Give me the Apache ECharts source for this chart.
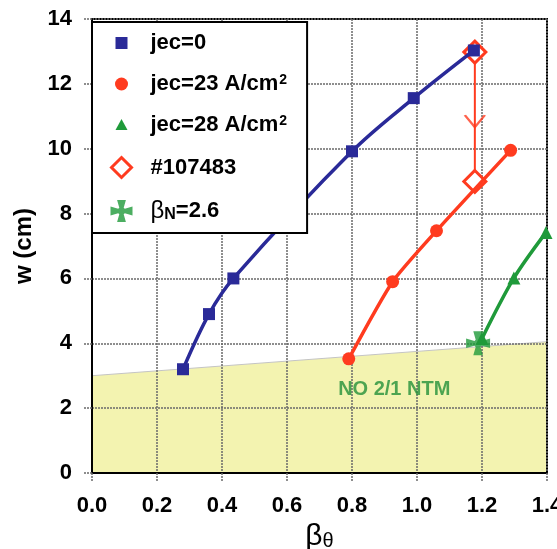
<!DOCTYPE html>
<html><head><meta charset="utf-8">
<script src="https://cdn.jsdelivr.net/npm/echarts@6/dist/echarts.min.js"></script>
<style>html,body{margin:0;padding:0;background:#fff}#c{width:557px;height:549px}</style>
</head><body><div id="c"></div>
<script>
// ---- data ----
const xTicks = [0.0, 0.2, 0.4, 0.6, 0.8, 1.0, 1.2, 1.4];
const yTicks = [0, 2, 4, 6, 8, 10, 12, 14];
const jec0X = [0.28, 0.36, 0.435, 0.80, 0.99, 1.175];
const jec0Y = [3.2, 4.9, 6.0, 9.92, 11.56, 13.03];
const jec23X = [0.79, 0.925, 1.06, 1.288];
const jec23Y = [3.52, 5.9, 7.47, 9.95];
const jec28X = [1.2, 1.298, 1.397];
const jec28Y = [4.15, 6.01, 7.42];
const shotX = [1.178, 1.178];
const shotY = [12.98, 8.99];
const arrowX = [1.178];
const arrowY = [10.85];
const betaNX = [1.188];
const betaNY = [4.0];
const bandX = [0, 1.4];
const bandY = [3.0, 4.05];
const ntmX = [0.93];
const ntmY = [2.56];
const names = ['jec=0', 'jec=23 A/cm2', 'jec=28 A/cm2', '#107483', 'βN=2.6'];

const zip = (a, b) => a.map((v, i) => [v, b[i]]);
const BLUE = '#2a2a98', RED = '#ff3b1f', GREEN = '#1f9a3a';
const gridLine = { color: '#6a6a6a', width: 1.5, type: [2, 1] };
const crossPath = 'path://M6,0L14,0L12,7L13,8L20,6L20,14L13,12L12,13L14,20L6,20L8,13L7,12L0,14L0,6L7,8L8,7Z';

const chart = echarts.init(document.getElementById('c'));
chart.setOption({
  animation: false,
  textStyle: { fontFamily: 'Liberation Sans, Arial, sans-serif' },
  grid: { left: 92, right: 10, top: 19, bottom: 76, show: true, borderColor: '#000', borderWidth: 2,
          outerBoundsMode: 'none', containLabel: false },
  xAxis: {
    type: 'value', min: xTicks[0], max: xTicks[xTicks.length - 1], interval: 0.2,
    axisLine: { show: true, lineStyle: { color: '#000', width: 2 } },
    axisTick: { show: true, length: 8, lineStyle: gridLine },
    splitLine: { show: true, lineStyle: gridLine },
    axisLabel: { margin: 22, fontSize: 22, fontWeight: 'bold', color: '#000', formatter: v => v.toFixed(1) },
    name: '{b|β}{s|θ}', nameLocation: 'middle', nameGap: 42,
    nameTextStyle: { rich: { b: { fontSize: 30, color: '#000' }, s: { fontSize: 20, color: '#000', verticalAlign: 'bottom', padding: [10, 0, 0, 0] } } }
  },
  yAxis: {
    type: 'value', min: yTicks[0], max: yTicks[yTicks.length - 1], interval: 2,
    axisLine: { show: true, lineStyle: { color: '#000', width: 2 } },
    axisTick: { show: true, length: 8, lineStyle: gridLine },
    splitLine: { show: true, lineStyle: gridLine },
    axisLabel: { margin: 20, fontSize: 22, fontWeight: 'bold', color: '#000' },
    name: 'w (cm)', nameLocation: 'middle', nameGap: 38,
    nameTextStyle: { fontSize: 24, fontWeight: 'bold', color: '#000' }
  },
  legend: {
    orient: 'vertical', left: 92, top: 22, selectedMode: false,
    padding: [10, 20, 10, 17], itemGap: 19, itemWidth: 48, itemHeight: 22,
    backgroundColor: '#fff', borderColor: '#000', borderWidth: 2,
    textStyle: {
      fontSize: 22, fontWeight: 'bold', color: '#000',
      rich: {
        t: { fontSize: 22, fontWeight: 'bold', color: '#000' },
        sup: { fontSize: 14, fontWeight: 'bold', color: '#000', verticalAlign: 'top', padding: [0, 0, 8, 1] },
        g: { fontSize: 24, fontWeight: 'normal', color: '#000' },
        sub: { fontSize: 16, fontWeight: 'bold', color: '#000', padding: [8, 0, 0, 0] }
      }
    },
    formatter: function (n) {
      if (n === names[1]) return '{t|jec=23 A/cm}{sup|2}';
      if (n === names[2]) return '{t|jec=28 A/cm}{sup|2}';
      if (n === names[4]) return '{g|β}{sub|N}{t|=2.6}';
      return '{t|' + n + '}';
    },
    data: [
      { name: names[0], icon: 'path://M0,0M22,22M5,5L17,5L17,17L5,17Z', itemStyle: { color: BLUE, borderWidth: 0 } },
      { name: names[1], icon: 'path://M0,0M22,22M4.5,11A6.5,6.5,0,1,1,17.5,11A6.5,6.5,0,1,1,4.5,11Z', itemStyle: { color: RED, borderWidth: 0 } },
      { name: names[2], icon: 'path://M0,0M22,22M11,5L17,16L5,16Z', itemStyle: { color: GREEN, borderWidth: 0 } },
      { name: names[3], icon: 'path://M0,0M22,22M11,1L21,11L11,21L1,11Z', itemStyle: { color: '#fff', borderColor: RED, borderWidth: 3 } },
      { name: names[4], icon: crossPath, itemStyle: { color: GREEN, borderWidth: 0 } }
    ]
  },
  series: [
    { type: 'line', name: 'band', z: -1, data: zip(bandX, bandY), symbol: 'none', silent: true,
      lineStyle: { color: '#c4c4c4', width: 1 }, areaStyle: { color: '#f3f3b0', opacity: 1 } },
    { type: 'line', name: names[3], z: 2, data: zip(shotX, shotY), symbol: 'diamond', symbolSize: 22,
      itemStyle: { color: '#fff', borderColor: RED, borderWidth: 3 }, lineStyle: { color: RED, width: 2 } },
    { type: 'scatter', name: 'arrow', z: 2, data: zip(arrowX, arrowY), symbol: 'path://M0,0L10,12L20,0', symbolSize: [20, 12],
      itemStyle: { color: 'rgba(0,0,0,0)', borderColor: RED, borderWidth: 2 } },
    { type: 'line', name: names[0], z: 3, data: zip(jec0X, jec0Y), smooth: 0.35, symbol: 'rect', symbolSize: 12,
      itemStyle: { color: BLUE }, lineStyle: { color: BLUE, width: 3.5 } },
    { type: 'line', name: names[1], z: 3, data: zip(jec23X, jec23Y), smooth: 0.2, symbol: 'circle', symbolSize: 13,
      itemStyle: { color: RED }, lineStyle: { color: RED, width: 3.5 } },
    { type: 'line', name: names[2], z: 3, data: zip(jec28X, jec28Y), smooth: 0.3, symbol: 'triangle', symbolSize: 13,
      itemStyle: { color: GREEN }, lineStyle: { color: GREEN, width: 3.5 }, clip: false },
    { type: 'scatter', name: names[4], z: 4, data: zip(betaNX, betaNY), symbol: crossPath, symbolSize: 24,
      itemStyle: { color: GREEN } },
    { type: 'scatter', name: 'ntm', z: 4, data: zip(ntmX, ntmY), symbol: 'circle', symbolSize: 1, silent: true,
      itemStyle: { color: 'rgba(0,0,0,0)' },
      label: { show: true, position: 'inside', formatter: 'NO 2/1 NTM', fontSize: 20, fontWeight: 'bold', color: '#23903a' } }
  ]
});
</script></body></html>
